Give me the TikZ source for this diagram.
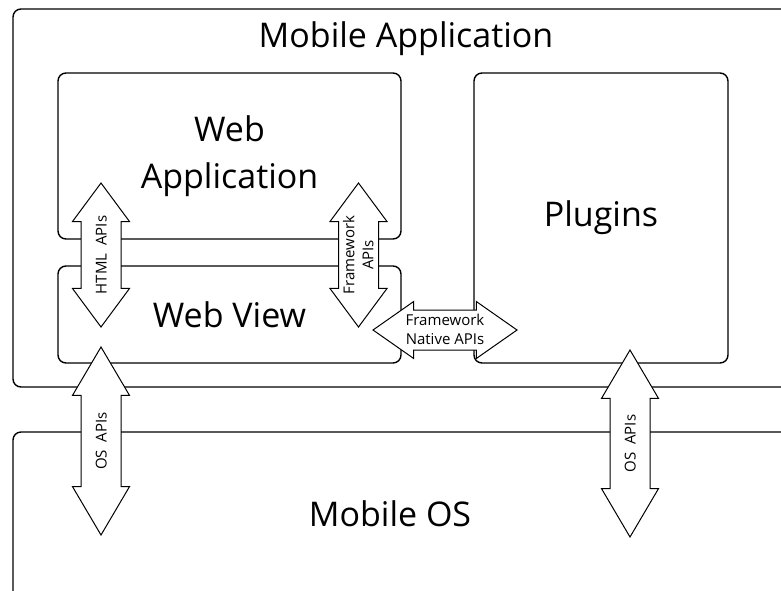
\documentclass[tikz,border=0pt]{standalone}
\usepackage{fontspec}
\setmainfont{Open Sans}
\usepackage{tikz}
\usetikzlibrary{shapes,arrows,positioning,calc}

% labels that may run over the ends of an arrow shaft
\newcommand{\apilabel}[1]{\makebox[0pt]{#1}}
\newcommand{\apistack}[2]{\makebox[0pt]{\vtop{\halign{\hfil##\hfil\cr#1\cr#2\cr}}}}

\begin{document}
\begin{tikzpicture}[
            x=1pt, y=-1pt,
            container/.style={
                    rectangle,
                    rounded corners=8pt,
                    draw=black,
                    line width=1.4pt,
                    inner sep=0pt,
                    align=center,
                    font=\fontsize{34}{47}\selectfont
                },
            heading/.style={
                    anchor=base,
                    inner sep=0pt,
                    font=\fontsize{34}{47}\selectfont
                },
            api/.style={
                    double arrow,
                    draw=black,
                    fill=white,
                    line width=1pt,
                    double arrow head extend=8.5pt,
                    inner sep=0pt,
                    text height=25pt,
                    text depth=14pt,
                    font=\fontsize{15}{19}\selectfont
                },
            twolines/.style={
                    text height=15.4pt,
                    text depth=23.6pt
                }
        ]
        \clip (0,0) rectangle (781,590);

        % Outer containers
        \node[container, minimum width=787pt, minimum height=378pt] (mobileapp) at (406.5,198) {};
        \node[container, minimum width=787pt, minimum height=188pt] (mobileos) at (406.5,526) {};
        \node[heading] (apptitle) at (406,47) {Mobile Application};
        \node[heading] (ostitle) at (390,526) {Mobile OS};

        % Parts of the application
        \node[container, minimum width=343pt, minimum height=166pt] (webapp) at (229.5,156) {Web\\Application};
        \node[container, minimum width=343pt, minimum height=97pt] (webview) at (229.5,314.5) {Web View};
        \node[container, minimum width=254pt, minimum height=290pt] (plugins) at (601,218) {Plugins};

        % API arrows
        \node[api, rotate=90, minimum height=144pt, double arrow tip angle=73] (html) at (101,255) {\apilabel{HTML~~APIs}};
        \node[api, twolines, rotate=90, minimum height=144pt, double arrow tip angle=73] (fwapis) at (358.5,255) {\apistack{Framework}{APIs}};
        \node[api, twolines, minimum height=144pt, double arrow tip angle=70] (native) at (445,330) {\apistack{Framework}{Native APIs}};
        \node[api, rotate=90, minimum height=188pt, double arrow tip angle=61] (osleft) at (101,441) {\apilabel{OS~~APIs}};
        \node[api, rotate=90, minimum height=187pt, double arrow tip angle=61] (osright) at (630,443.5) {\apilabel{OS~~APIs}};

    \end{tikzpicture}
\end{document}
